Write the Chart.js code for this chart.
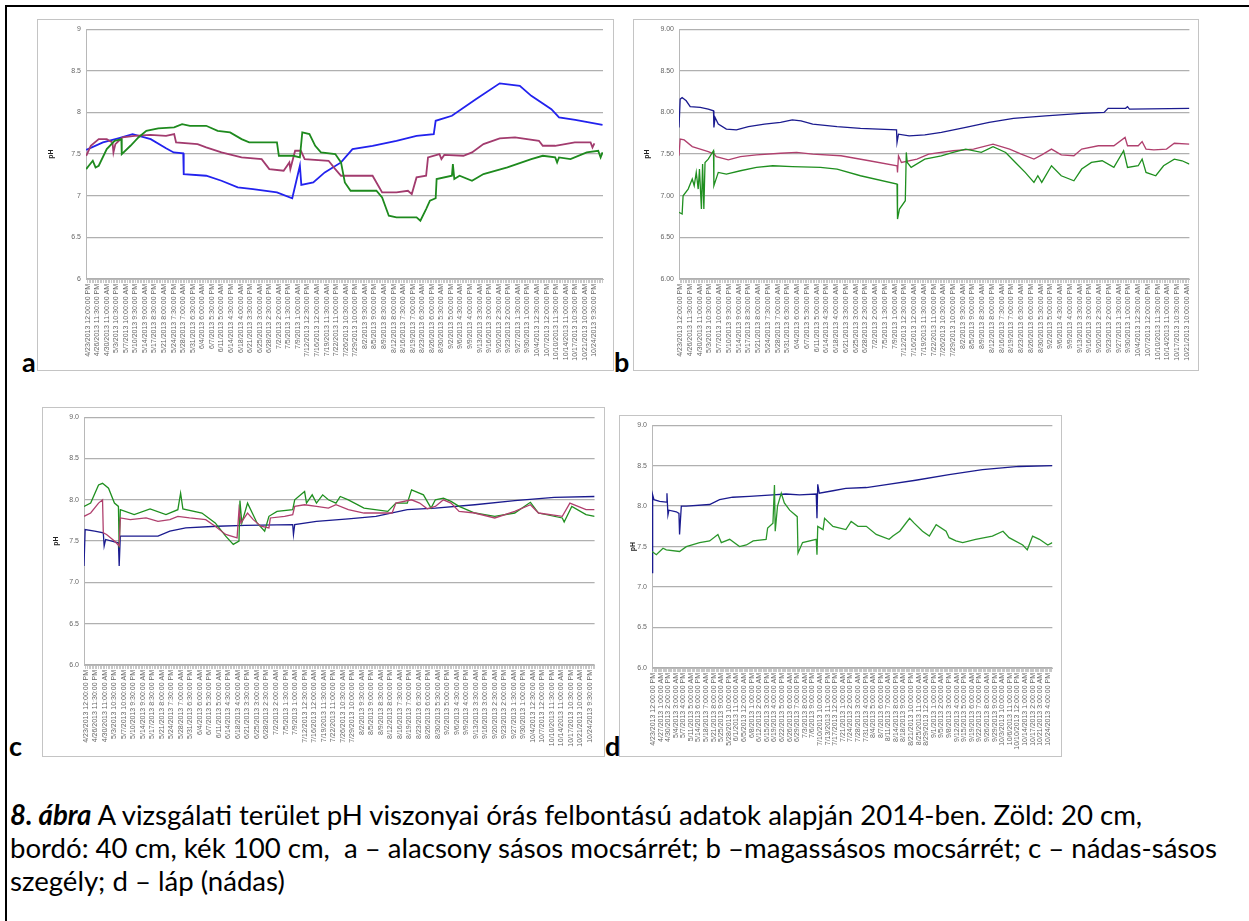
<!DOCTYPE html>
<html>
<head>
<meta charset="utf-8">
<script src="https://cdn.jsdelivr.net/npm/chart.js@4"></script>
<style>
    body { margin: 0; width: 1249px; height: 921px; background: #fff; position: relative; overflow: hidden; font-family: 'Liberation Sans', Arial, sans-serif; }
    .frame { position: absolute; left: 5px; top: 5px; width: 1400px; height: 1000px; border-top: 2px solid #000; border-left: 2px solid #000; }
    .box { position: absolute; border: 1px solid #c4c4c4; background: #fff; }
    .box canvas { display: block; }
    .tag { position: absolute; font-family: Lato, 'Open Sans', sans-serif; font-weight: 700; font-size: 27px; line-height: 1; }
    .caption { position: absolute; left: 10px; top: 798px; font-family: Lato, 'Open Sans', sans-serif; font-size: 22px; line-height: 33px; white-space: nowrap; }
</style>
</head>
<body>
<div class="frame"></div>
<div class="tag" style="left:22px; top:348px;">a</div>
<div class="tag" style="left:614px; top:348px;">b</div>
<div class="tag" style="left:9px; top:732px;">c</div>
<div class="tag" style="left:605px; top:732px;">d</div>
<div class="caption" id="caption"><b><i>8. ábra</i></b> A vizsgálati terület pH viszonyai órás felbontású adatok alapján 2014-ben. Zöld: 20 cm,<br><span id="line2">bordó: 40 cm, kék 100 cm,&nbsp; a – alacsony sásos mocsárrét; b –magassásos mocsárrét; c – nádas-sásos</span><br>szegély; d – láp (nádas)</div>

<script>
// tick labels on the category axes (every 83.5 h in a, b, c; every 85 h in d)
const labelsA = [
    '4/23/2013 12:00:00 PM', '4/26/2013 11:30:00 PM', '4/30/2013 11:00:00 AM', '5/3/2013 10:30:00 PM',
    '5/7/2013 10:00:00 AM', '5/10/2013 9:30:00 PM', '5/14/2013 9:00:00 AM', '5/17/2013 8:30:00 PM',
    '5/21/2013 8:00:00 AM', '5/24/2013 7:30:00 PM', '5/28/2013 7:00:00 AM', '5/31/2013 6:30:00 PM',
    '6/4/2013 6:00:00 AM', '6/7/2013 5:30:00 PM', '6/11/2013 5:00:00 AM', '6/14/2013 4:30:00 PM',
    '6/18/2013 4:00:00 AM', '6/21/2013 3:30:00 PM', '6/25/2013 3:00:00 AM', '6/28/2013 2:30:00 PM',
    '7/2/2013 2:00:00 AM', '7/5/2013 1:30:00 PM', '7/9/2013 1:00:00 AM', '7/12/2013 12:30:00 PM',
    '7/16/2013 12:00:00 AM', '7/19/2013 11:30:00 AM', '7/22/2013 11:00:00 PM', '7/26/2013 10:30:00 AM',
    '7/29/2013 10:00:00 PM', '8/2/2013 9:30:00 AM', '8/5/2013 9:00:00 PM', '8/9/2013 8:30:00 AM',
    '8/12/2013 8:00:00 PM', '8/16/2013 7:30:00 AM', '8/19/2013 7:00:00 PM', '8/23/2013 6:30:00 AM',
    '8/26/2013 6:00:00 PM', '8/30/2013 5:30:00 AM', '9/2/2013 5:00:00 PM', '9/6/2013 4:30:00 AM',
    '9/9/2013 4:00:00 PM', '9/13/2013 3:30:00 AM', '9/16/2013 3:00:00 PM', '9/20/2013 2:30:00 AM',
    '9/23/2013 2:00:00 PM', '9/27/2013 1:30:00 AM', '9/30/2013 1:00:00 PM', '10/4/2013 12:30:00 AM',
    '10/7/2013 12:00:00 PM', '10/10/2013 11:30:00 PM', '10/14/2013 11:00:00 AM', '10/17/2013 10:30:00 PM',
    '10/21/2013 10:00:00 AM', '10/24/2013 9:30:00 PM'
];
const labelsB = labelsA.slice(0, 53); // b stops at 10/21
const labelsC = labelsA.slice();
const labelsD = [
    '4/23/2013 12:00:00 PM', '4/27/2013 1:00:00 AM', '4/30/2013 2:00:00 PM', '5/4/2013 3:00:00 AM',
    '5/7/2013 4:00:00 PM', '5/11/2013 5:00:00 AM', '5/14/2013 6:00:00 PM', '5/18/2013 7:00:00 AM',
    '5/21/2013 8:00:00 PM', '5/25/2013 9:00:00 AM', '5/28/2013 10:00:00 PM', '6/1/2013 11:00:00 AM',
    '6/5/2013 12:00:00 AM', '6/8/2013 1:00:00 PM', '6/12/2013 2:00:00 AM', '6/15/2013 3:00:00 PM',
    '6/19/2013 4:00:00 AM', '6/22/2013 5:00:00 PM', '6/26/2013 6:00:00 AM', '6/29/2013 7:00:00 PM',
    '7/3/2013 8:00:00 AM', '7/6/2013 9:00:00 PM', '7/10/2013 10:00:00 AM', '7/13/2013 11:00:00 PM',
    '7/17/2013 12:00:00 PM', '7/21/2013 1:00:00 AM', '7/24/2013 2:00:00 PM', '7/28/2013 3:00:00 AM',
    '7/31/2013 4:00:00 PM', '8/4/2013 5:00:00 AM', '8/7/2013 6:00:00 PM', '8/11/2013 7:00:00 AM',
    '8/14/2013 8:00:00 PM', '8/18/2013 9:00:00 AM', '8/21/2013 10:00:00 PM', '8/25/2013 11:00:00 AM',
    '8/29/2013 12:00:00 AM', '9/1/2013 1:00:00 PM', '9/5/2013 2:00:00 AM', '9/8/2013 3:00:00 PM',
    '9/12/2013 4:00:00 AM', '9/15/2013 5:00:00 PM', '9/19/2013 6:00:00 AM', '9/22/2013 7:00:00 PM',
    '9/26/2013 8:00:00 AM', '9/29/2013 9:00:00 PM', '10/3/2013 10:00:00 AM', '10/6/2013 11:00:00 PM',
    '10/10/2013 12:00:00 PM', '10/14/2013 1:00:00 AM', '10/17/2013 2:00:00 PM', '10/21/2013 3:00:00 AM',
    '10/24/2013 4:00:00 PM'
];

// pH axis labels, bottom to top
const yTicksA = ['6', '6.5', '7', '7.5', '8', '8.5', '9'];
const yTicksB = ['6.00', '6.50', '7.00', '7.50', '8.00', '8.50', '9.00'];
const yTicksC = ['6.0', '6.5', '7.0', '7.5', '8.0', '8.5', '9.0'];
const yTicksD = ['6.0', '6.5', '7.0', '7.5', '8.0', '8.5', '9.0'];

// series: [position along the category axis (1 = one labelled tick), pH]
// a - alacsony sásos mocsárrét
const aGreen = [[-0.15,7.32],[0.12,7.36],[0.54,7.42],[0.83,7.34],[1.16,7.36],[2.0,7.56],[2.82,7.66],[3.53,7.68],[3.57,7.50],
    [4.48,7.60],[5.31,7.70],[6.14,7.78],[7.39,7.81],[9.05,7.82],[9.88,7.86],[10.7,7.84],[12.4,7.84],[13.6,7.78],[14.9,7.76],
    [16.1,7.68],[16.9,7.64],[19.8,7.64],[20.0,7.48],[21.5,7.48],[22.2,7.46],[22.45,7.76],[23.2,7.74],[23.8,7.60],[24.4,7.52],
    [25.9,7.50],[26.5,7.40],[26.9,7.16],[27.5,7.06],[30.2,7.06],[30.8,6.98],[31.5,6.76],[32.3,6.74],[34.4,6.74],[34.8,6.70],
    [35.4,6.84],[35.8,6.94],[36.4,6.97],[36.5,7.20],[38.1,7.24],[38.2,7.38],[38.35,7.20],[38.9,7.24],[40.2,7.18],[41.4,7.26],
    [43.9,7.34],[46.4,7.44],[47.6,7.48],[48.9,7.46],[49.1,7.40],[49.3,7.46],[50.5,7.44],[52.2,7.52],[53.4,7.54],[53.65,7.46],[53.85,7.52]];
const aBordo = [[-0.15,7.48],[0.33,7.60],[1.16,7.68],[2.0,7.68],[2.6,7.64],[2.7,7.52],[2.9,7.62],[3.65,7.70],[4.9,7.72],
    [6.56,7.73],[8.2,7.72],[9.05,7.74],[9.25,7.64],[11.5,7.62],[12.4,7.58],[14.0,7.52],[16.1,7.46],[18.2,7.44],[19.0,7.32],
    [20.5,7.30],[21.1,7.40],[21.2,7.32],[21.7,7.54],[22.3,7.54],[22.7,7.44],[25.2,7.42],[25.9,7.32],[26.5,7.24],[29.8,7.24],
    [30.4,7.12],[30.8,7.04],[32.3,7.04],[33.5,7.06],[33.9,7.02],[34.4,7.22],[35.4,7.24],[35.6,7.46],[36.8,7.50],[37.0,7.44],
    [37.3,7.49],[39.3,7.48],[40.2,7.52],[41.4,7.62],[43.1,7.69],[44.7,7.70],[47.2,7.66],[47.6,7.60],[48.9,7.60],[50.95,7.64],
    [52.6,7.64],[52.8,7.58],[53.0,7.63]];
const aBlue = [[-0.15,7.55],[1.6,7.64],[3.2,7.69],[4.7,7.74],[6.6,7.68],[8.2,7.57],[9.0,7.52],[10.0,7.51],[10.05,7.26],
    [12.4,7.24],[14.0,7.18],[15.7,7.10],[17.3,7.08],[19.8,7.04],[21.4,6.97],[22.2,7.36],[22.35,7.13],[23.6,7.16],[24.8,7.28],
    [26.5,7.40],[27.7,7.56],[29.8,7.60],[32.3,7.66],[34.4,7.72],[36.2,7.74],[36.4,7.90],[38.1,7.96],[40.6,8.16],[43.1,8.35],
    [45.2,8.32],[46.4,8.20],[48.5,8.04],[49.3,7.94],[51.0,7.91],[53.85,7.85]];

// b - magassásos mocsárrét
const bGreen = [[-0.12,6.80],[0.2,6.78],[0.3,7.00],[0.82,7.08],[1.24,7.20],[1.44,7.12],[1.65,7.28],[1.85,7.08],[1.98,7.32],
    [2.18,6.84],[2.3,7.38],[2.43,6.84],[2.55,7.40],[2.88,7.44],[3.42,7.54],[3.46,7.12],[3.91,7.28],[4.74,7.26],[6.18,7.30],
    [7.83,7.34],[9.5,7.36],[11.5,7.35],[14.4,7.34],[16.1,7.32],[18.5,7.24],[22.25,7.14],[22.3,6.72],[22.5,6.84],[23.1,6.94],
    [23.2,7.52],[23.3,7.40],[23.7,7.34],[25.1,7.44],[26.8,7.48],[28.0,7.52],[29.3,7.56],[30.9,7.52],[32.1,7.59],[33.4,7.52],
    [34.4,7.40],[35.4,7.28],[36.3,7.16],[36.7,7.24],[37.1,7.16],[38.1,7.36],[39.1,7.24],[40.4,7.18],[41.2,7.32],[42.2,7.40],
    [43.3,7.42],[44.5,7.34],[45.5,7.54],[45.9,7.34],[47.0,7.36],[47.4,7.44],[47.8,7.28],[48.8,7.24],[49.6,7.36],[50.7,7.44],
    [51.5,7.42],[52.25,7.38]];
const bBordo = [[-0.12,7.48],[0,7.68],[0.41,7.67],[1.24,7.59],[2.06,7.56],[2.88,7.53],[3.5,7.50],[3.7,7.47],[4.94,7.43],
    [6.18,7.47],[7.83,7.49],[10.3,7.51],[11.95,7.52],[13.6,7.50],[16.5,7.48],[19.4,7.42],[22.25,7.36],[22.3,7.28],[22.4,7.48],
    [22.7,7.40],[24.3,7.44],[25.5,7.50],[28.0,7.54],[30.1,7.56],[32.1,7.62],[33.8,7.56],[35.0,7.50],[36.3,7.44],[37.1,7.49],
    [38.1,7.56],[39.1,7.49],[40.4,7.48],[41.2,7.56],[42.9,7.60],[44.5,7.60],[45.65,7.70],[45.9,7.60],[47.0,7.60],[47.4,7.65],
    [47.8,7.56],[48.6,7.55],[49.9,7.56],[50.7,7.63],[52.25,7.62]];
const bBlue = [[-0.12,7.82],[0,8.16],[0.2,8.18],[0.62,8.14],[1.03,8.07],[2.06,8.06],[2.88,8.04],[3.42,8.02],[3.46,7.82],
    [3.58,7.94],[3.91,7.86],[4.74,7.80],[5.77,7.79],[7.0,7.83],[8.65,7.86],[10.3,7.88],[11.5,7.91],[12.4,7.90],[13.6,7.86],
    [16.1,7.83],[18.5,7.81],[22.2,7.79],[22.25,7.64],[22.4,7.74],[23.5,7.72],[25.1,7.73],[26.8,7.76],[29.3,7.82],[31.7,7.88],
    [34.2,7.93],[37.5,7.96],[41.2,7.99],[43.5,8.00],[43.9,8.05],[45.7,8.05],[45.9,8.07],[46.1,8.04],[52.25,8.05]];

// c - nádas-sásos szegély
const cGreen = [[-0.2,7.92],[0.5,7.96],[1.33,8.18],[1.75,8.20],[2.38,8.14],[3.0,7.96],[3.42,7.92],[3.5,7.42],[3.62,7.88],
    [5.08,7.82],[6.75,7.89],[8.42,7.82],[9.67,7.88],[9.96,8.08],[10.2,7.89],[12.2,7.84],[13.6,7.72],[14.7,7.56],[15.5,7.46],
    [16.1,7.50],[16.2,7.99],[16.4,7.72],[17.0,7.96],[18.0,7.72],[18.8,7.62],[19.25,7.80],[20.1,7.86],[21.75,7.88],[21.96,8.00],
    [23.0,8.10],[23.2,7.96],[23.8,8.06],[24.25,7.96],[24.9,8.06],[25.5,8.00],[26.3,7.96],[26.75,8.04],[27.6,8.00],[29.25,7.90],
    [31.75,7.86],[32.6,7.96],[33.8,7.96],[34.25,8.12],[35.5,8.06],[36.3,7.90],[36.75,8.00],[37.6,8.02],[38.4,7.98],[39.25,7.92],
    [40.9,7.84],[43.0,7.80],[45.1,7.84],[46.75,7.97],[47.6,7.84],[50.1,7.78],[50.3,7.73],[51.1,7.92],[52.6,7.82],[53.5,7.80]];
const cBordo = [[-0.2,7.80],[0.5,7.84],[1.33,7.96],[1.75,8.00],[1.83,7.60],[2.17,7.58],[3.0,7.50],[3.5,7.44],[3.62,7.78],
    [4.67,7.76],[6.33,7.78],[7.58,7.74],[8.83,7.76],[9.67,7.80],[10.9,7.78],[12.6,7.76],[13.6,7.68],[14.7,7.58],[15.9,7.54],
    [16.1,7.88],[16.3,7.72],[17.0,7.84],[17.6,7.76],[18.4,7.68],[19.25,7.66],[19.4,7.78],[20.9,7.80],[21.75,7.82],[21.96,7.92],
    [23.0,7.94],[24.25,7.92],[25.5,7.90],[26.3,7.94],[27.6,7.88],[29.25,7.84],[32.2,7.84],[32.6,7.96],[34.25,8.00],[35.1,7.96],
    [35.9,7.89],[36.75,7.92],[37.6,8.00],[38.4,7.96],[39.25,7.86],[40.9,7.84],[43.0,7.78],[45.1,7.86],[46.75,7.94],[47.6,7.84],
    [50.1,7.80],[50.9,7.96],[52.6,7.88],[53.5,7.88]];
const cBlue = [[-0.2,7.20],[-0.08,7.64],[0.92,7.62],[1.83,7.60],[1.92,7.44],[2.08,7.52],[3.0,7.49],[3.42,7.48],[3.5,7.20],
    [3.62,7.56],[7.58,7.56],[8.83,7.62],[10.5,7.66],[13.8,7.68],[16.75,7.69],[21.75,7.70],[21.83,7.58],[21.96,7.70],[24.25,7.74],
    [27.6,7.77],[30.5,7.80],[33.8,7.88],[36.75,7.90],[40.9,7.94],[45.1,7.99],[49.25,8.03],[53.5,8.04]];

// d - láp (nádas)
const dGreen = [[-0.13,7.44],[0.44,7.40],[1.32,7.48],[1.75,7.46],[3.5,7.44],[4.39,7.50],[6.14,7.55],[7.46,7.57],[8.55,7.65],
    [9.0,7.55],[10.1,7.59],[11.4,7.50],[12.3,7.52],[13.2,7.57],[14.9,7.59],[15.1,7.73],[15.8,7.79],[16.0,8.26],[16.1,7.69],
    [16.4,8.00],[16.9,8.16],[17.3,8.04],[18.0,7.95],[19.0,7.87],[19.1,7.42],[19.7,7.55],[21.5,7.59],[21.6,7.40],[21.7,7.75],
    [22.4,7.71],[22.6,7.85],[23.7,7.75],[25.4,7.71],[26.1,7.81],[27.0,7.75],[28.1,7.75],[29.4,7.65],[31.1,7.59],[31.6,7.63],
    [32.5,7.69],[33.8,7.85],[34.4,7.79],[35.5,7.69],[36.4,7.63],[37.3,7.77],[38.6,7.69],[39.0,7.61],[39.9,7.57],[40.8,7.55],
    [42.5,7.59],[44.7,7.63],[46.1,7.69],[46.9,7.61],[48.7,7.52],[49.3,7.46],[50.0,7.63],[50.9,7.59],[52.0,7.52],[52.6,7.55]];
const dBlue = [[-0.13,7.18],[-0.09,7.83],[0,8.14],[0.13,8.08],[0.88,8.06],[1.75,8.05],[1.84,8.16],[1.97,7.89],[2.1,7.95],
    [3.07,7.93],[3.42,7.91],[3.5,7.65],[3.73,8.00],[4.39,8.00],[7.46,8.02],[8.77,8.08],[10.5,8.11],[12.7,8.12],[15.8,8.14],
    [17.5,8.15],[19.3,8.14],[21.5,8.15],[21.6,7.85],[21.7,8.27],[21.9,8.16],[23.7,8.19],[25.4,8.22],[28.1,8.23],[30.3,8.26],
    [34.6,8.32],[39.0,8.39],[43.4,8.45],[48.2,8.49],[52.6,8.50]];

// page geometry: box = [left, top, right, bottom], plot = chart area
const panels = [
    { box: [37, 19, 612, 369], plot: [86, 26, 601, 277], xMin: -0.17, xMax: 53.9, labels: labelsA, yTicks: yTicksA,
      series: [[aGreen, '#1e8a1e'], [aBordo, '#a23b6e'], [aBlue, '#2222ee']], width: 1.8 },
    { box: [633, 19, 1197, 369], plot: [679, 26, 1189, 277], xMin: -0.12, xMax: 52.25, labels: labelsB, yTicks: yTicksB,
      series: [[bGreen, '#1f8f1f'], [bBordo, '#b0406e'], [bBlue, '#1b1b8f']], width: 1.3 },
    { box: [42, 407, 603, 755], plot: [84, 414, 594, 663], xMin: -0.2, xMax: 53.5, labels: labelsC, yTicks: yTicksC,
      series: [[cBordo, '#b0406e'], [cGreen, '#1f8f1f'], [cBlue, '#1b1b8f']], width: 1.3 },
    { box: [619, 415, 1060, 755], plot: [652, 422, 1053, 666], xMin: -0.13, xMax: 52.6, labels: labelsD, yTicks: yTicksD,
      series: [[dGreen, '#2a962a'], [dBlue, '#1b1b8f']], width: 1.3 }
];

function makePanel(p) {
    const w = p.box[2] - p.box[0];
    const h = p.box[3] - p.box[1];
    const wrap = document.createElement('div');
    wrap.className = 'box';
    wrap.style.left = p.box[0] + 'px';
    wrap.style.top = p.box[1] + 'px';
    wrap.style.width = w + 'px';
    wrap.style.height = h + 'px';
    const canvas = document.createElement('canvas');
    canvas.width = w;
    canvas.height = h;
    wrap.appendChild(canvas);
    document.body.appendChild(wrap);

    new Chart(canvas, {
        type: 'scatter',
        data: {
            datasets: p.series.map(([pts, color]) => ({
                data: pts.map(([x, y]) => ({ x: x, y: y })),
                showLine: true,
                borderColor: color,
                borderWidth: p.width,
                pointRadius: 0,
                tension: 0
            }))
        },
        options: {
            responsive: false,
            animation: false,
            events: [],
            layout: { padding: { top: p.plot[1] - p.box[1] - 1, right: p.box[2] - p.plot[2] - 1, left: 0, bottom: 0 } },
            plugins: { legend: { display: false }, tooltip: { enabled: false } },
            scales: {
                x: {
                    type: 'linear',
                    min: p.xMin,
                    max: p.xMax,
                    afterBuildTicks: function(scale) {
                        // one labelled tick per category label, small minor ticks between
                        const ticks = [];
                        for (let i = 0; i < p.labels.length; i++) {
                            for (let k = 0; k < 6; k++) {
                                const v = i + k / 6;
                                if (v <= p.xMax) ticks.push({ value: v });
                            }
                        }
                        scale.ticks = ticks;
                    },
                    afterFit: function(scale) { scale.height = p.box[3] - p.plot[3] - 1; },
                    ticks: {
                        autoSkip: false,
                        minRotation: 90,
                        maxRotation: 90,
                        padding: 1,
                        color: '#666',
                        font: { size: 7, family: 'Liberation Sans' },
                        callback: function(v) { return Number.isInteger(v) ? p.labels[v] : ''; }
                    },
                    grid: { drawOnChartArea: false, drawTicks: true, tickLength: 4, color: '#c8c8c8' },
                    border: { color: '#b8b8b8' }
                },
                y: {
                    min: 6,
                    max: 9,
                    afterFit: function(scale) { scale.width = p.plot[0] - p.box[0] - 1; },
                    ticks: {
                        stepSize: 0.5,
                        padding: 5,
                        color: '#666',
                        font: { size: 7, family: 'Liberation Sans' },
                        callback: function(v, i) { return p.yTicks[i]; }
                    },
                    title: { display: true, text: 'pH', color: '#222', font: { size: 7, weight: 'bold', family: 'Liberation Sans' }, padding: { top: 9, bottom: 0 } },
                    grid: { color: '#b0b0b0', lineWidth: 1.3, drawTicks: false },
                    border: { color: '#b8b8b8' }
                }
            }
        }
    });
}

panels.forEach(makePanel);

// fit the caption to the width of its longest line
const caption = document.getElementById('caption');
const line2 = document.getElementById('line2');
const fs = 22 * 1207 / line2.getBoundingClientRect().width;
caption.style.fontSize = fs.toFixed(2) + 'px';
</script>
</body>
</html>
